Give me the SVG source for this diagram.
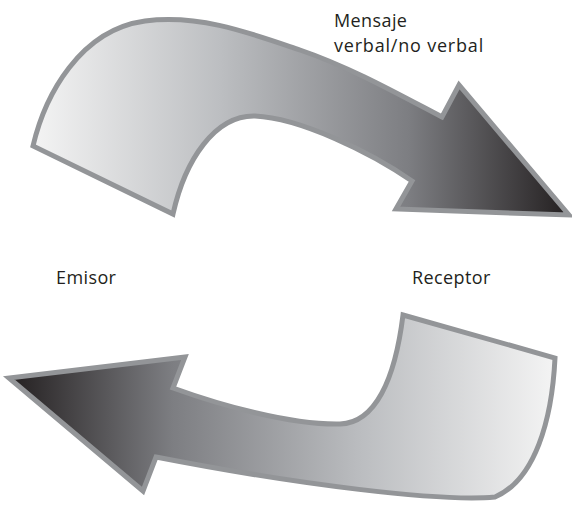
<svg xmlns="http://www.w3.org/2000/svg" width="572" height="505" viewBox="0 0 572 505">
  <style>
    .arrow { stroke: #939598; stroke-width: 5; stroke-linejoin: miter; stroke-miterlimit: 10; }
    .label { font-family: "Open Sans", "Noto Sans", sans-serif; font-size: 18px; letter-spacing: 0.4px; fill: #231f20; }
  </style>
  <defs>
    <linearGradient id="gradTop" gradientUnits="userSpaceOnUse" x1="33" y1="0" x2="569" y2="0">
      <stop offset="0" stop-color="#f4f4f4"/>
      <stop offset="0.35" stop-color="#bcbec1"/>
      <stop offset="0.7" stop-color="#7d7e82"/>
      <stop offset="1" stop-color="#231f20"/>
    </linearGradient>
    <linearGradient id="gradBottom" gradientUnits="userSpaceOnUse" x1="9" y1="0" x2="555" y2="0">
      <stop offset="0" stop-color="#231f20"/>
      <stop offset="0.3" stop-color="#7d7e82"/>
      <stop offset="0.65" stop-color="#bcbec1"/>
      <stop offset="1" stop-color="#f4f4f4"/>
    </linearGradient>
  </defs>
  <rect width="572" height="505" fill="#ffffff"/>
  <g id="connectors">
    <path id="arrow-mensaje" class="arrow" fill="url(#gradTop)" d="M 33,146 C 45,95 80,30 145,21 C 200,14 250,33 300,50 C 350,67 400,95 442,117 L 459,85 L 569,215 L 396,209 L 412,181 C 370,152 300,118 255,116 C 215,115 185,160 173,214 Z"/>
    <path id="arrow-respuesta" class="arrow" fill="url(#gradBottom)" d="M 403,315 L 555,358 C 552,420 535,480 495,497 C 440,502 300,485 156,457 L 143,491 L 9,378 L 185,357 L 173,388 C 220,405 290,425 340,424 C 375,423 395,380 403,315 Z"/>
  </g>
  <g id="mensaje">
    <text class="label" x="334" y="27">Mensaje</text>
    <text class="label" x="334" y="52" style="letter-spacing:0.8px">verbal/no verbal</text>
  </g>
  <g id="emisor">
    <text class="label" x="56" y="284">Emisor</text>
  </g>
  <g id="receptor">
    <text class="label" x="412" y="284">Receptor</text>
  </g>
</svg>
